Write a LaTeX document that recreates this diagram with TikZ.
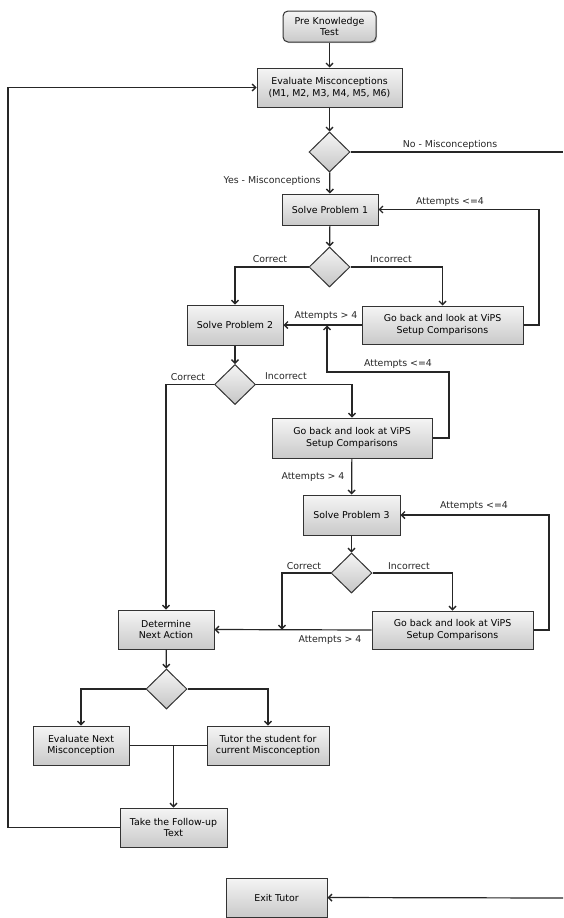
\documentclass[tikz,border=0pt]{standalone}
\usepackage{fontspec}
\setmainfont{DejaVu Sans}
\usetikzlibrary{arrows.meta,shadows,shapes.geometric}
\begin{document}
\begin{tikzpicture}[x=1pt,y=-1pt,
  box/.style={draw=black!80, line width=1pt, top color=gray!8, bottom color=gray!42,
    drop shadow={shadow xshift=1.2pt,shadow yshift=-1.2pt,opacity=0.35},
    align=center, inner sep=0pt, font=\fontsize{9.4}{11.5}\selectfont},
  dia/.style={diamond, draw=black!80, line width=1pt, top color=gray!8, bottom color=gray!45,
    minimum width=41pt, minimum height=40pt, inner sep=0pt},
  con/.style={line width=1.2pt, draw=black!85},
  arr/.style={con, -{Straight Barb[length=3.5pt,width=7pt,line width=1.4pt]}},
  lbl/.style={font=\fontsize{9.4}{11.5}\selectfont, inner sep=1pt, text=black!85}]
\useasboundingbox (0,0) rectangle (563,918);
% nodes
\node[box, rounded corners=5pt, minimum width=93pt, minimum height=31pt] (pre) at (329.5,26.5) {Pre Knowledge\\Test};
\node[box, minimum width=145pt, minimum height=39pt] (eval) at (329.5,87.5) {Evaluate Misconceptions\\(M1, M2, M3, M4, M5, M6)};
\node[dia] (d1) at (329.5,152) {};
\node[box, minimum width=96pt, minimum height=31pt] (sp1) at (330,209.5) {Solve Problem 1};
\node[dia] (d2) at (329.5,267) {};
\node[box, minimum width=96pt, minimum height=40pt] (sp2) at (235,325) {Solve Problem 2};
\node[box, minimum width=161pt, minimum height=38pt] (gb1) at (442.5,325) {Go back and look at ViPS\\Setup Comparisons};
\node[dia] (d3) at (235,384.5) {};
\node[box, minimum width=160pt, minimum height=40pt] (gb2) at (352,438) {Go back and look at ViPS\\Setup Comparisons};
\node[box, minimum width=97pt, minimum height=40pt] (sp3) at (351.5,515) {Solve Problem 3};
\node[dia] (d4) at (351.5,573) {};
\node[box, minimum width=161pt, minimum height=38pt] (gb3) at (452.5,630) {Go back and look at ViPS\\Setup Comparisons};
\node[box, minimum width=96pt, minimum height=39pt] (det) at (166,629.5) {Determine\\Next Action};
\node[dia] (d5) at (166.5,689) {};
\node[box, minimum width=96pt, minimum height=39pt] (en) at (81,745.5) {Evaluate Next\\Misconception};
\node[box, minimum width=122pt, minimum height=39pt] (tut) at (268,745.5) {Tutor the student for\\current Misconception};
\node[box, minimum width=107pt, minimum height=39pt] (fu) at (173.5,827.5) {Take the Follow-up\\Text};
\node[box, minimum width=101pt, minimum height=39pt] (exit) at (276.5,897.5) {Exit Tutor};
% coordinates
\coordinate (noEnd) at (563,152);
\coordinate (exitIn) at (563,898);
\coordinate (j1) at (327,325.5);
\coordinate (j2) at (282,629.5);
\coordinate (j3) at (173.5,745.5);
% connectors
\draw[arr] (pre) -- (eval);
\draw[arr] (eval) -- (d1);
\draw[con] (d1.east) -- (noEnd);
\draw[arr] (d1) -- (sp1);
\draw[arr] (sp1) -- (d2);
\draw[arr] (d2.west) -| (sp2.north);
\draw[arr] (d2.east) -| (gb1.north);
\draw[arr] (gb1.west) -- (sp2.east);
\draw[arr] (gb1.east) -- (539,325) |- (sp1.east);
\draw[arr] (sp2) -- (d3);
\draw[arr] (d3.west) -| (det.north);
\draw[arr] (d3.east) -| (gb2.north);
\draw[arr] (gb2.east) -- (449,438) |- (327,372) -- (j1);
\draw[arr] (gb2) -- (sp3);
\draw[arr] (gb3.east) -- (549,630) |- (sp3.east);
\draw[arr] (sp3) -- (d4);
\draw[arr] (d4.west) -| (j2);
\draw[arr] (d4.east) -| (gb3.north);
\draw[arr] (gb3.west) -- (det.east);
\draw[arr] (det) -- (d5);
\draw[arr] (d5.west) -| (en.north);
\draw[arr] (d5.east) -| (tut.north);
\draw[con] (en.east) -- (tut.west);
\draw[arr] (j3) -- (fu.north);
\draw[arr] (fu.west) -- (8,827.5) |- (eval.west);
\draw[arr] (exitIn) -- (exit.east);
% labels
\node[lbl] at (450,145) {No - Misconceptions};
\node[lbl] at (272,181) {Yes - Misconceptions};
\node[lbl] at (450,202) {Attempts <=4};
\node[lbl] at (270,259) {Correct};
\node[lbl] at (391,259) {Incorrect};
\node[lbl] at (326,316) {Attempts > 4};
\node[lbl] at (188,377) {Correct};
\node[lbl] at (286,376) {Incorrect};
\node[lbl] at (398,364) {Attempts <=4};
\node[lbl] at (313,477) {Attempts > 4};
\node[lbl] at (474,506) {Attempts <=4};
\node[lbl] at (304,566) {Correct};
\node[lbl] at (409,566) {Incorrect};
\node[lbl] at (330,640) {Attempts > 4};
\end{tikzpicture}
\end{document}
